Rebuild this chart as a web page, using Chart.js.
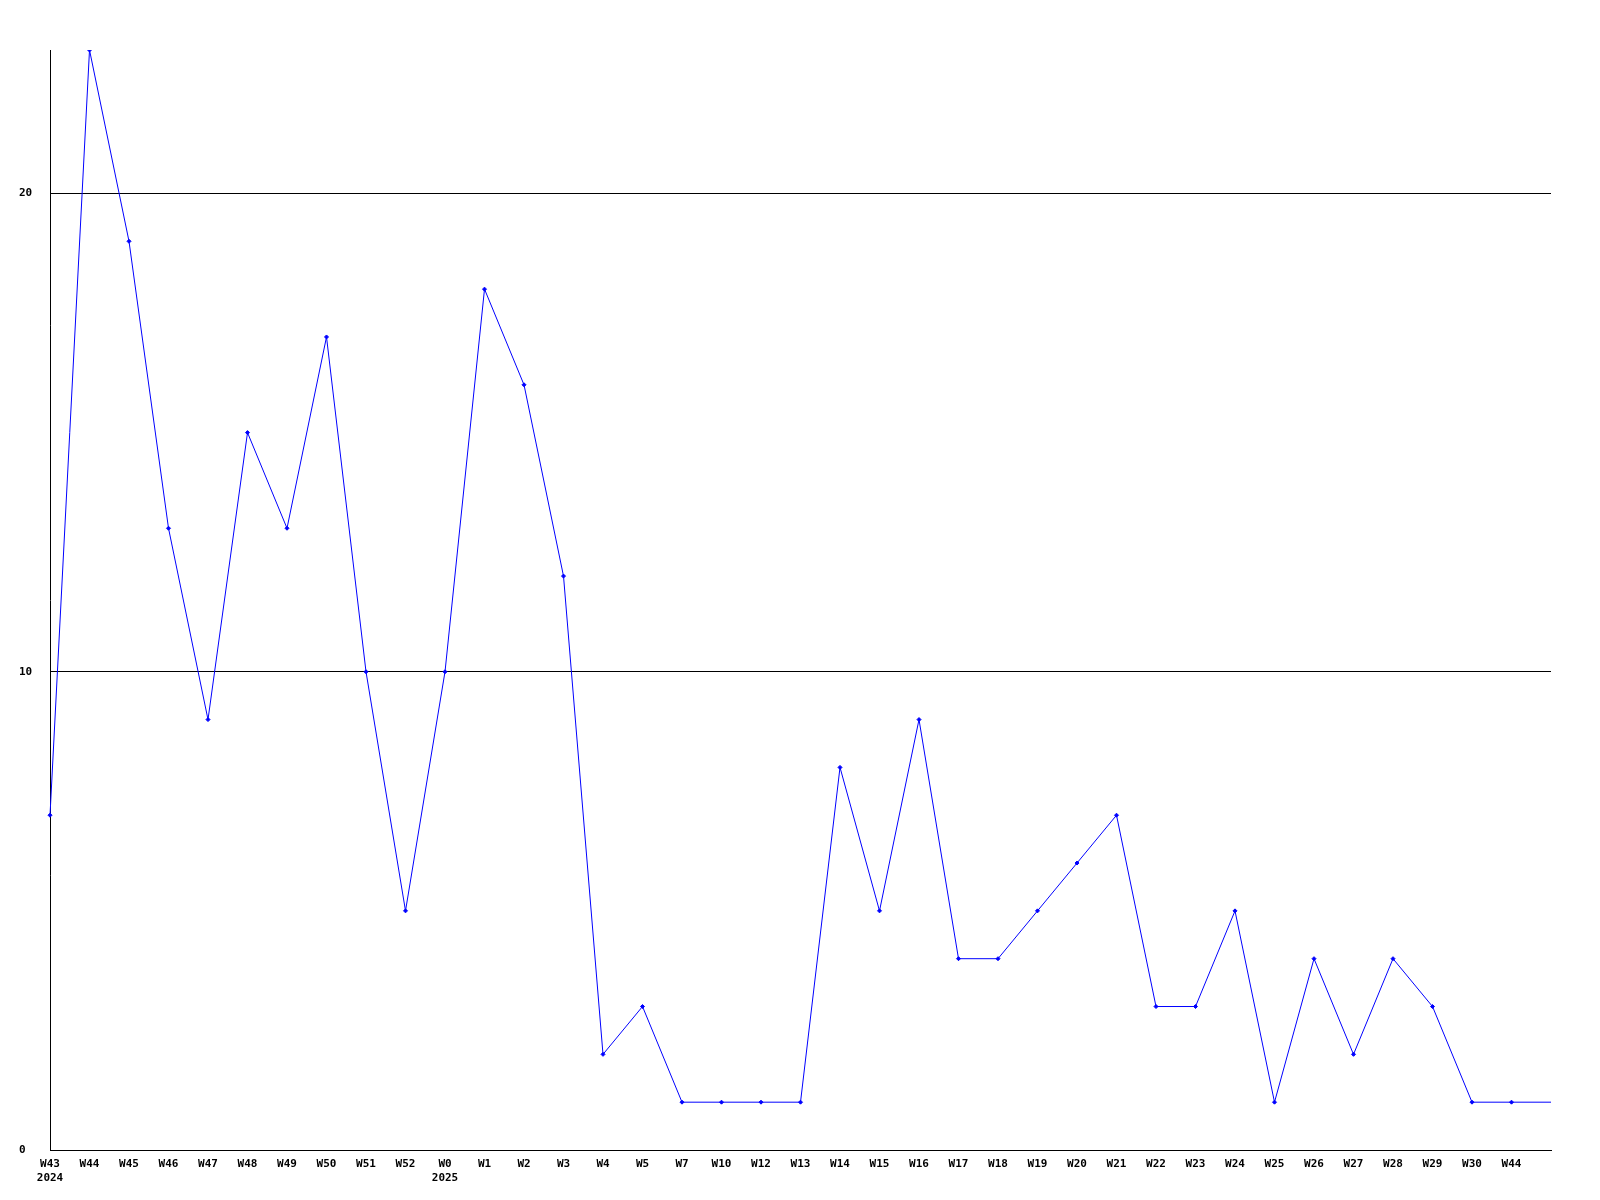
<!DOCTYPE html>
<html>
<head>
<meta charset="utf-8">
<script src="https://cdn.jsdelivr.net/npm/chart.js@4/dist/chart.umd.min.js"></script>
<style>
  html, body { margin: 0; padding: 0; background: #fff; }
  #wrap { width: 1600px; height: 1200px; }
</style>
</head>
<body>
<div id="wrap"><canvas id="myChart" width="1600" height="1200"></canvas></div>
<script>
// week labels, year shown under the first week of each year
var weeks = ["W43", "W44", "W45", "W46", "W47", "W48", "W49", "W50", "W51", "W52",
    "W0", "W1", "W2", "W3", "W4", "W5", "W7", "W10", "W12", "W13",
    "W14", "W15", "W16", "W17", "W18", "W19", "W20", "W21", "W22", "W23",
    "W24", "W25", "W26", "W27", "W28", "W29", "W30", "W44", ""];
var years = {0: "2024", 10: "2025"};
var counts = [7, 23, 19, 13, 9, 15, 13, 17, 10, 5,
    10, 18, 16, 12, 2, 3, 1, 1, 1, 1,
    8, 5, 9, 4, 4, 5, 6, 7, 3, 3,
    5, 1, 4, 2, 4, 3, 1, 1, 1];
var yTicks = [0, 10, 20];

var labels = weeks.map(function(w, i) {
    return years[i] ? [w, years[i]] : w;
});

var ctx = document.getElementById('myChart').getContext('2d');
var chart = new Chart(ctx, {
    type: 'line',
    data: {
        labels: labels,
        datasets: [{
            data: counts,
            borderColor: '#0000ff',
            backgroundColor: '#0000ff',
            borderWidth: 1,
            fill: false,
            lineTension: 0,
            pointStyle: 'rectRot',
            pointRadius: function(c) { return c.dataIndex === counts.length - 1 ? 0 : 2; },
            pointBorderWidth: 1
        }]
    },
    options: {
        responsive: false,
        animation: false,
        layout: { padding: { left: 19, right: 49, top: 50, bottom: 0 } },
        plugins: { legend: { display: false }, tooltip: { enabled: false } },
        scales: {
            x: {
                offset: false,
                grid: { display: false },
                border: { display: true, color: '#000', width: 1 },
                ticks: {
                    color: '#000',
                    autoSkip: false,
                    maxRotation: 0,
                    padding: -1,
                    font: { family: 'DejaVu Sans Mono', weight: 'bold', size: 11, lineHeight: 1.3 }
                },
                afterFit: function(s) { s.height = 50; }
            },
            y: {
                min: 0,
                max: 23,
                grid: { color: '#000', drawTicks: false, lineWidth: 1 },
                border: { display: true, color: '#000', width: 1 },
                afterBuildTicks: function(s) { s.ticks = yTicks.map(function(v) { return {value: v}; }); },
                ticks: {
                    color: '#000',
                    crossAlign: 'far',
                    font: { family: 'DejaVu Sans Mono', weight: 'bold', size: 11 }
                },
                afterFit: function(s) { s.width = 31; }
            }
        }
    }
});
</script>
</body>
</html>
